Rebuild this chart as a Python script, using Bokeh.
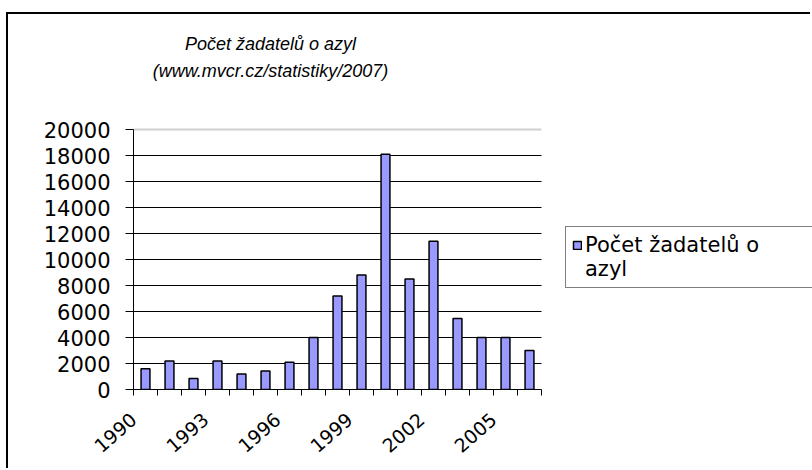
from bokeh.plotting import figure
from bokeh.models import Range1d, FixedTicker, Grid, Label, Legend, LegendItem
from bokeh.embed import file_html
from bokeh.resources import INLINE

years = list(range(1990, 2007))
applicants = [1600, 2200, 840, 2200, 1190, 1420, 2100, 4000, 7200, 8800,
              18100, 8500, 11400, 5460, 4000, 4000, 3000]
x_tick_years = [1990, 1993, 1996, 1999, 2002, 2005]
x_tick_labels = ["1990", "1993", "1996", "1999", "2002", "2005"]
y_ticks = list(range(0, 20001, 2000))
title_lines = ["Počet žadatelů o azyl", "(www.mvcr.cz/statistiky/2007)"]
legend_lines = ["Počet žadatelů o", "azyl"]

AX_FONT = "DejaVu Sans"
AX_SIZE = "21px"
XLAB_SIZE = "19px"
XLAB_ANGLE = 0.72
LABEL_SHIFT = 0.5  # rotated labels end near the left edge of their category

# layout (pixels inside the figure)
W, H = 804, 456
LEFT, BOTTOM = 125, 81          # axis panels
PLOT_W, PLOT_H = 408, 260       # visible bar area
x0, x1 = years[0] - 0.5, years[-1] + 0.5
y0, y1 = y_ticks[0], y_ticks[-1]
frame_w, frame_h = W - LEFT, H - BOTTOM
x_end = x0 + (x1 - x0) * frame_w / PLOT_W
y_end = y0 + (y1 - y0) * frame_h / PLOT_H

p = figure(width=W, height=H, output_backend="svg", toolbar_location=None,
           x_range=Range1d(x0, x_end), y_range=Range1d(y0, y_end),
           min_border_left=LEFT, min_border_right=0,
           min_border_top=0, min_border_bottom=BOTTOM)
p.title = None
p.styles = {"margin-left": "6px", "margin-top": "12px",
            "border-left": "2px solid black", "border-top": "2px solid black"}
p.background_fill_color = "white"
p.border_fill_color = "white"
p.outline_line_color = None

# grid
p.xgrid.visible = False
p.ygrid.visible = False
has_cross = "cross_bounds" in Grid.properties()
if has_cross:
    g = Grid(dimension=1, ticker=FixedTicker(ticks=y_ticks[1:-1]),
             cross_bounds=(x0, x1), grid_line_color="black", grid_line_width=1)
    gt = Grid(dimension=1, ticker=FixedTicker(ticks=[y1]),
              cross_bounds=(x0, x1), grid_line_color="#d0d0d0", grid_line_width=2)
    p.add_layout(g)
    p.add_layout(gt)
else:
    p.segment(x0=[x0] * (len(y_ticks) - 2), x1=[x1] * (len(y_ticks) - 2),
              y0=y_ticks[1:-1], y1=y_ticks[1:-1], line_color="black", line_width=1)
    p.segment(x0=[x0], x1=[x1], y0=[y1], y1=[y1], line_color="#d0d0d0", line_width=2)

# bars
r = p.vbar(x=years, top=applicants, width=0.37, fill_color="#9999ff",
           line_color="black", line_width=1.5)

# y axis
p.yaxis.bounds = (y0, y1)
p.yaxis.ticker = FixedTicker(ticks=y_ticks)
p.yaxis.axis_line_color = "black"
p.yaxis.major_tick_line_color = "black"
p.yaxis.major_tick_out = 8
p.yaxis.major_tick_in = 0
p.yaxis.minor_tick_line_color = None
p.yaxis.major_label_text_font = AX_FONT
p.yaxis.major_label_text_font_size = AX_SIZE
p.yaxis.major_label_text_color = "black"
p.yaxis.major_label_standoff = 15

# x axis
label_pos = [y - LABEL_SHIFT for y in x_tick_years]
p.xaxis.bounds = (x0 - 0.01, x1)
p.xaxis.ticker = FixedTicker(ticks=label_pos,
                             minor_ticks=[y - 0.5 for y in years] + [x1])
p.xaxis.major_label_overrides = {pos: l for pos, l in zip(label_pos, x_tick_labels)}
p.xaxis.axis_line_color = "black"
p.xaxis.major_tick_out = 0
p.xaxis.major_tick_in = 0
p.xaxis.minor_tick_line_color = "black"
p.xaxis.minor_tick_out = 6
p.xaxis.minor_tick_in = 0
p.xaxis.major_label_orientation = XLAB_ANGLE
p.xaxis.major_label_text_font = AX_FONT
p.xaxis.major_label_text_font_size = XLAB_SIZE
p.xaxis.major_label_text_color = "black"
p.xaxis.major_label_standoff = 21

# title (two centred lines)
for i, t in enumerate(title_lines):
    p.add_layout(Label(x=260, y=27 + 27 * i, x_units="canvas", y_units="canvas",
                       text=t, text_align="center", text_baseline="middle",
                       text_font="Liberation Sans", text_font_style="italic",
                       text_font_size="18px", text_color="black"))

# legend: swatch beside the first line of the series name
legend = Legend(items=[LegendItem(label=legend_lines[0], renderers=[r]),
                       LegendItem(label=legend_lines[1], renderers=[])],
                location=(432, 101), border_line_color="black", border_line_width=1,
                label_text_font=AX_FONT, label_text_font_size=AX_SIZE,
                label_text_color="black", label_height=22, spacing=0,
                glyph_width=10, glyph_height=10, padding=6, label_standoff=3,
                label_width=240, background_fill_color="white", margin=0,
                inactive_fill_alpha=0)
p.add_layout(legend, "center")

open("out.html", "w").write(file_html(p, INLINE))
